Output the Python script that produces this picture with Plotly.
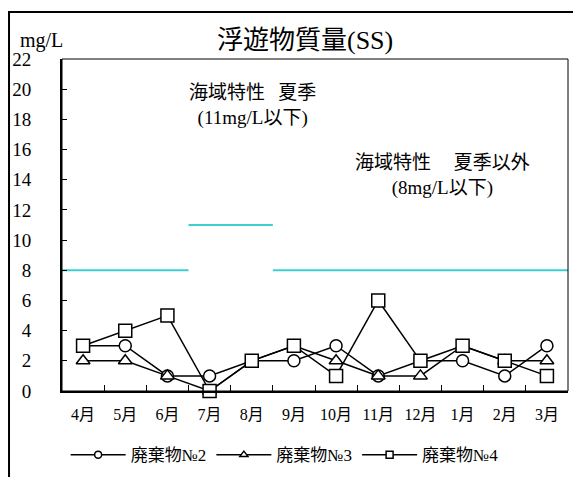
import plotly.graph_objects as go

months = ["4月", "5月", "6月", "7月", "8月", "9月", "10月", "11月", "12月", "1月", "2月", "3月"]
no2 = [3, 3, 1, 1, 2, 2, 3, 1, 2, 2, 1, 3]
no3 = [2, 2, 1, 0, 2, 3, 2, 1, 1, 3, 2, 2]
no4 = [3, 4, 5, 0, 2, 3, 1, 6, 2, 3, 2, 1]
series_names = ["廃棄物№2", "廃棄物№3", "廃棄物№4"]

# Sea-area standard: (first month, last month, limit in mg/L)
standard_periods = [("4月", "6月", 8), ("7月", "8月", 11), ("9月", "3月", 8)]

SERIF = "Liberation Serif, Noto Sans CJK JP, serif"

fig = go.Figure()
for name, vals, sym, size in zip(series_names, [no2, no3, no4],
                                 ["circle", "triangle-up", "square"], [12, 12, 13]):
    fig.add_trace(go.Scatter(
        x=months, y=vals, name=name, mode="lines+markers", showlegend=False,
        line=dict(color="black", width=1.5),
        marker=dict(symbol=sym, size=size, color="white",
                    line=dict(color="black", width=1.5)),
        cliponaxis=False,
    ))
# legend entries with small symbols (as in the original legend)
for name, sym in zip(series_names, ["circle", "triangle-up", "square"]):
    fig.add_trace(go.Scatter(
        x=[None], y=[None], name=name, mode="lines+markers",
        line=dict(color="black", width=1.5),
        marker=dict(symbol=sym, size=7, color="white",
                    line=dict(color="black", width=1.5)),
    ))

for start, end, limit in standard_periods:
    fig.add_shape(type="line", xref="x", yref="y",
                  x0=months.index(start) - 0.5, x1=months.index(end) + 0.5,
                  y0=limit, y1=limit,
                  line=dict(color="#3CCFCF", width=2), layer="below")

# thin top/right frame of plot area
fig.add_shape(type="rect", xref="paper", yref="paper", x0=0, x1=1, y0=0, y1=1,
              line=dict(color="black", width=1))
# outer chart border
fig.add_shape(type="rect", xref="paper", yref="paper",
              x0=-0.1047, x1=2, y0=-1, y1=1.1416,
              line=dict(color="black", width=2))

ann = dict(xref="paper", yref="paper", showarrow=False,
           xanchor="center", yanchor="middle")
fig.add_annotation(x=0.48, y=1.057, text="浮遊物質量(SS)",
                   font=dict(size=26, family=SERIF, color="black"), **ann)
fig.add_annotation(x=-0.04, y=1.057, text="mg/L",
                   font=dict(size=20, family=SERIF, color="black"), **ann)
fig.add_annotation(x=0.377, y=0.861, text="海域特性\u2002\u2009夏季<br>(11mg/L以下)",
                   font=dict(size=19, family=SERIF, color="black"), **ann)
fig.add_annotation(x=0.751, y=0.648, text="海域特性\u2003\u2009夏季以外<br>(8mg/L以下)",
                   font=dict(size=19, family=SERIF, color="black"), **ann)

fig.update_layout(
    width=573, height=469,
    margin=dict(l=54, r=13, t=51, b=86, autoexpand=False),
    paper_bgcolor="white", plot_bgcolor="white",
    font=dict(family=SERIF, color="black"),
    showlegend=True,
    legend=dict(orientation="h", x=0.44, xanchor="center", y=-0.193, yanchor="middle",
                font=dict(size=17, family=SERIF), itemwidth=55,
                traceorder="normal", bgcolor="rgba(0,0,0,0)"),
    xaxis=dict(type="category", tickson="boundaries", ticks="inside", ticklen=6,
               tickcolor="black", showline=True, linecolor="black", linewidth=2,
               showgrid=False, range=[-0.5, 11.5], tickfont=dict(size=16),
               ticklabelstandoff=8),
    yaxis=dict(range=[0, 22], dtick=2, ticks="inside", ticklen=5, tickcolor="black",
               showline=True, linecolor="black", linewidth=2, showgrid=False,
               zeroline=False, tickfont=dict(size=19), ticklabelstandoff=25),
)

fig.write_html("out.html")
